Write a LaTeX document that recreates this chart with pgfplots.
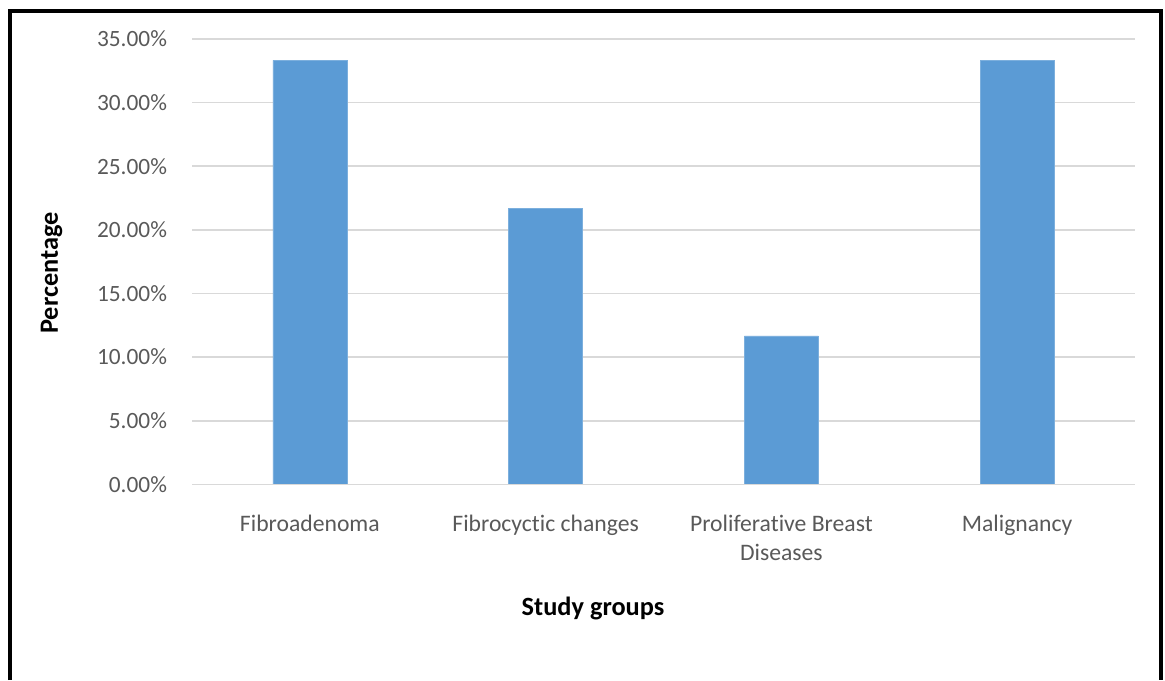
\documentclass[border=0pt]{standalone}
\usepackage{pgfplots}
\pgfplotsset{compat=1.18}
\usepackage{fontspec}
\setmainfont{Carlito}[Ligatures=NoCommon]
\definecolor{barblue}{HTML}{5B9BD5}
\definecolor{gridgray}{HTML}{D9D9D9}
\definecolor{ticktext}{HTML}{595959}
\begin{document}
\begin{tikzpicture}
\useasboundingbox (0,0) rectangle (699pt,-408pt);
\draw[line width=2.4pt] (6.1pt,-408pt) -- (6.1pt,-6.5pt) -- (696.3pt,-6.5pt) -- (696.3pt,-408pt);
\begin{axis}[
  at={(115.2pt,-290.6pt)}, anchor=south west,
  scale only axis, width=565.8pt, height=267.2pt,
  ymin=0, ymax=35, ytick distance=5,
  xmin=-0.5, xmax=3.5,
  xtick=data,
  xticklabels={Fibroadenoma, Fibrocyctic changes, {Proliferative Breast\\Diseases}, Malignancy},
  xticklabel style={align=center, font=\fontsize{14.2}{17.5}\selectfont, text=ticktext, yshift=-15pt},
  yticklabel style={font=\fontsize{14}{17}\selectfont, text=ticktext, xshift=-11.5pt},
  yticklabel={\pgfmathprintnumber[fixed,fixed zerofill,precision=2]{\tick}\%},
  /pgf/number format/assume math mode=true,
  ymajorgrids, grid style={gridgray, line width=1pt},
  axis line style={draw=none},
  major tick length=0pt,
  ybar, bar width=44.4pt, bar shift=0pt,
  clip=false,
]
\addplot[fill=barblue, draw=barblue!80!white, line width=0.4pt] coordinates {(0,33.33) (1,21.67) (2,11.67) (3,33.33)};
\draw[gridgray, line width=1pt] (axis cs:-0.5,0) -- (axis cs:3.5,0);
\end{axis}
\node[rotate=90, font=\fontsize{15.8}{19}\selectfont\bfseries] at (31pt,-163.8pt) {Percentage};
\node[font=\fontsize{15.8}{19}\selectfont\bfseries] at (355.8pt,-364.8pt) {Study groups};
\end{tikzpicture}
\end{document}
